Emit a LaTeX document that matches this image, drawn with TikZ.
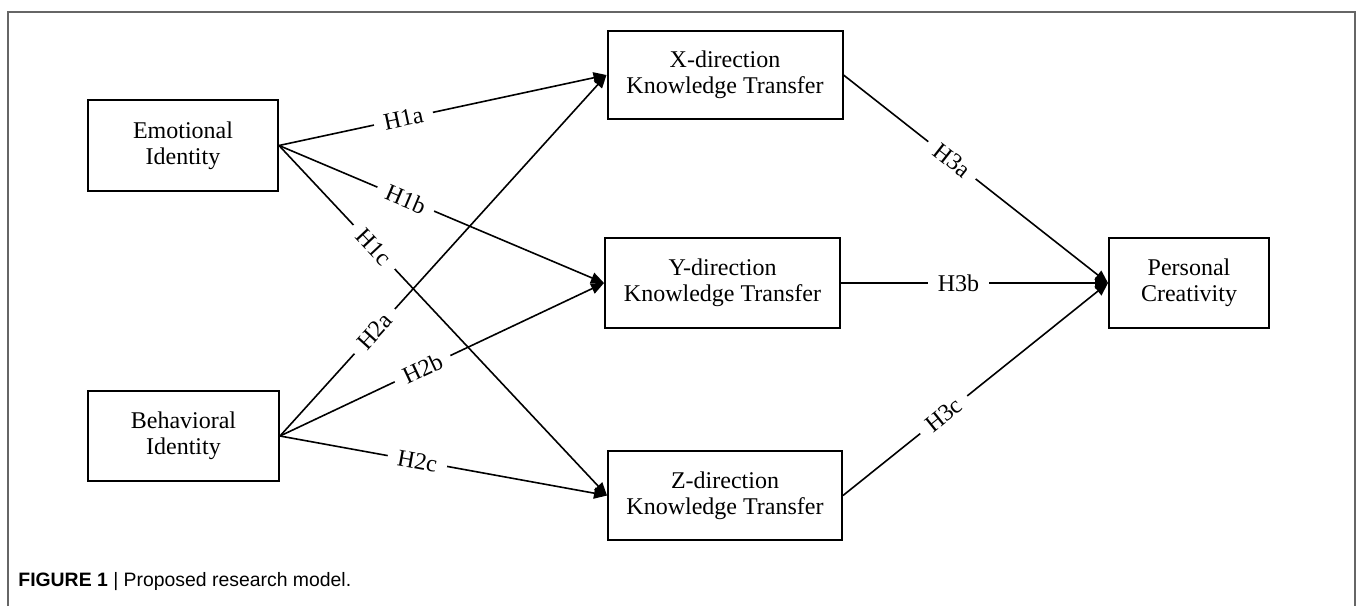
\documentclass[tikz,border=0pt]{standalone}
\usepackage{fontspec}
\setmainfont{Liberation Serif}
\newfontfamily\capsans{Liberation Sans}
\usetikzlibrary{arrows.meta}

\begin{document}
\begin{tikzpicture}[x=0.5pt,y=-0.5pt,
    construct/.style={draw, line width=1pt, align=center, inner sep=0pt,
        font=\fontsize{12}{13.2}\selectfont},
    hypo/.style={line width=0.8pt, -{Triangle[length=6.5pt,width=5.5pt]}},
    hlabel/.style={fill=white, sloped, inner xsep=5pt, inner ysep=1pt,
        font=\fontsize{12}{13}\selectfont}]
    \useasboundingbox (0,0) rectangle (1358,606);

    % Draw frame
    \draw[black!60, line width=0.75pt] (8,606) -- (8,12) -- (1355,12) -- (1355,606);

    % Draw constructs
    \node[construct, minimum width=95pt, minimum height=45.5pt] (emo) at (183,145.5) {Emotional\\Identity};
    \node[construct, minimum width=95.5pt, minimum height=45pt] (beh) at (183.5,436) {Behavioral\\Identity};
    \node[construct, minimum width=117.5pt, minimum height=44pt] (xdir) at (725,75) {X-direction\\Knowledge Transfer};
    \node[construct, minimum width=117.5pt, minimum height=45pt] (ydir) at (722.5,283) {Y-direction\\Knowledge Transfer};
    \node[construct, minimum width=117pt, minimum height=44.5pt] (zdir) at (725,495.5) {Z-direction\\Knowledge Transfer};
    \node[construct, minimum width=80pt, minimum height=45pt] (crea) at (1189,283) {Personal\\Creativity};

    % Draw hypotheses H1
    \draw[hypo] (emo.east) -- (xdir.west) node[hlabel, pos=0.38] {H1a};
    \draw[hypo] (emo.east) -- (ydir.west) node[hlabel, pos=0.39] {H1b};
    \draw[hypo] (emo.east) -- (zdir.west) node[hlabel, pos=0.29] {H1c};

    % Draw hypotheses H2
    \draw[hypo] (beh.east) -- (xdir.west) node[hlabel, pos=0.29] {H2a};
    \draw[hypo] (beh.east) -- (ydir.west) node[hlabel, pos=0.44] {H2b};
    \draw[hypo] (beh.east) -- (zdir.west) node[hlabel, pos=0.42] {H2c};

    % Draw hypotheses H3
    \draw[hypo] (xdir.east) -- (crea.west) node[hlabel, pos=0.41] {H3a};
    \draw[hypo] (ydir.east) -- (crea.west) node[hlabel, pos=0.44] {H3b};
    \draw[hypo] (zdir.east) -- (crea.west) node[hlabel, pos=0.38] {H3c};

    % Draw caption
    \node[anchor=base west, inner sep=0pt, font=\capsans\fontsize{9.7}{11}\selectfont] (caption) at (18,586)
        {\textbf{FIGURE 1} | Proposed research model.};
\end{tikzpicture}
\end{document}
